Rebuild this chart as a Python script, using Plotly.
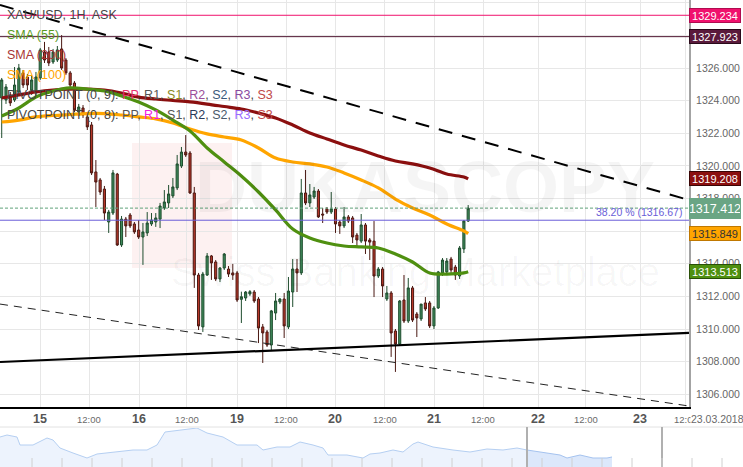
import plotly.graph_objects as go

# ---------------- data ----------------
opens = [1324.16, 1324.04, 1324.35, 1324.04, 1324.53, 1325.70, 1325.45, 1324.65, 1324.53, 1325.39,
         1326.98, 1326.98, 1326.37, 1326.49, 1327.17, 1326.49, 1325.70, 1325.08, 1323.30, 1323.55,
         1323.00, 1322.51, 1319.63, 1319.14, 1318.58, 1316.56, 1317.11, 1319.50, 1315.15, 1316.74,
         1316.99, 1316.44, 1316.07, 1315.64, 1315.89, 1316.44, 1316.56, 1316.74, 1317.42, 1317.73,
         1318.16, 1318.65, 1319.99, 1320.85, 1320.79, 1318.34, 1313.31, 1310.13, 1313.31, 1314.48,
         1314.11, 1313.07, 1313.74, 1313.68, 1313.44, 1313.44, 1311.82, 1311.90, 1312.15, 1312.27,
         1311.84, 1310.13, 1309.82, 1309.02, 1310.98, 1311.66, 1311.84, 1310.13, 1312.27, 1313.68,
         1313.44, 1318.34, 1317.73, 1318.09, 1318.46, 1317.05, 1317.36, 1317.17, 1317.36, 1316.56,
         1316.32, 1316.87, 1316.81, 1315.76, 1315.39, 1316.38, 1315.46, 1315.39, 1313.25, 1313.68,
         1311.84, 1312.21, 1309.88, 1309.08, 1311.78, 1310.49, 1312.52, 1310.92, 1310.62, 1311.60,
         1311.60, 1310.19, 1311.29, 1313.44, 1313.50, 1314.29, 1313.80, 1313.25, 1314.91, 1316.62]
highs = [1325.39, 1325.02, 1324.53, 1326.06, 1326.25, 1325.88, 1325.63, 1325.51, 1325.76, 1327.23,
         1327.60, 1327.29, 1327.17, 1327.35, 1328.02, 1326.61, 1325.82, 1325.20, 1323.80, 1323.73,
         1323.24, 1322.69, 1320.36, 1319.26, 1318.77, 1317.30, 1319.75, 1319.57, 1316.93, 1316.87,
         1317.11, 1316.56, 1316.68, 1316.50, 1317.17, 1317.11, 1317.11, 1317.73, 1318.52, 1318.83,
         1319.26, 1320.67, 1321.16, 1321.89, 1320.91, 1318.71, 1313.44, 1313.50, 1314.66, 1314.54,
         1314.23, 1313.80, 1314.66, 1313.86, 1313.99, 1313.56, 1312.29, 1312.33, 1312.39, 1312.39,
         1311.96, 1310.31, 1309.94, 1311.17, 1312.21, 1311.90, 1312.21, 1313.19, 1314.29, 1314.29,
         1319.20, 1319.75, 1318.89, 1318.71, 1318.58, 1317.42, 1317.48, 1318.40, 1317.48, 1316.68,
         1317.48, 1316.99, 1316.93, 1315.89, 1317.05, 1316.50, 1315.58, 1316.62, 1313.80, 1313.80,
         1312.64, 1312.33, 1310.00, 1311.78, 1313.31, 1313.13, 1312.64, 1311.04, 1311.53, 1311.96,
         1311.72, 1311.41, 1313.56, 1314.35, 1314.35, 1314.42, 1313.93, 1315.09, 1316.68, 1317.60]
lows = [1321.71, 1323.80, 1323.67, 1323.92, 1324.35, 1324.78, 1324.65, 1324.35, 1324.29, 1325.27,
        1326.31, 1326.12, 1326.25, 1326.37, 1325.88, 1325.57, 1324.78, 1323.30, 1323.06, 1322.94,
        1322.20, 1319.44, 1317.48, 1318.22, 1316.68, 1315.89, 1316.99, 1315.09, 1315.03, 1315.64,
        1316.19, 1315.83, 1315.52, 1313.93, 1315.70, 1316.32, 1316.26, 1316.19, 1317.30, 1317.42,
        1318.03, 1318.52, 1319.87, 1320.55, 1318.28, 1312.52, 1309.94, 1309.82, 1313.25, 1313.01,
        1312.94, 1312.88, 1313.62, 1313.19, 1313.01, 1311.66, 1310.37, 1311.72, 1312.03, 1311.60,
        1309.14, 1307.92, 1308.90, 1308.65, 1310.55, 1311.53, 1309.45, 1310.00, 1311.35, 1312.27,
        1313.31, 1317.60, 1317.48, 1317.97, 1316.81, 1316.50, 1317.05, 1317.05, 1315.89, 1315.83,
        1316.19, 1316.50, 1315.27, 1315.03, 1315.27, 1314.60, 1314.23, 1311.96, 1313.13, 1311.96,
        1311.72, 1308.29, 1307.37, 1308.96, 1310.37, 1310.37, 1310.43, 1309.51, 1310.49, 1311.11,
        1310.06, 1310.00, 1311.23, 1313.25, 1313.37, 1313.44, 1313.01, 1313.07, 1314.66, 1316.56]
closes = [1325.27, 1324.84, 1323.86, 1324.96, 1326.00, 1324.96, 1324.96, 1325.27, 1325.45, 1327.11,
          1326.49, 1326.31, 1326.98, 1327.11, 1326.00, 1325.70, 1324.96, 1323.43, 1323.61, 1323.12,
          1322.39, 1319.57, 1319.01, 1318.40, 1317.11, 1317.17, 1319.57, 1315.15, 1316.74, 1316.32,
          1316.32, 1315.95, 1315.64, 1315.95, 1316.50, 1316.68, 1316.81, 1317.54, 1317.79, 1318.28,
          1318.71, 1320.12, 1320.85, 1320.67, 1318.34, 1313.31, 1310.19, 1313.37, 1314.48, 1314.05,
          1313.07, 1313.74, 1314.60, 1313.37, 1313.31, 1311.78, 1311.98, 1312.27, 1312.29, 1311.72,
          1310.06, 1309.76, 1309.02, 1311.11, 1311.72, 1311.84, 1310.19, 1312.33, 1313.68, 1313.44,
          1318.34, 1317.73, 1318.22, 1318.46, 1316.87, 1316.99, 1317.17, 1317.36, 1316.44, 1316.32,
          1316.87, 1316.62, 1315.64, 1315.46, 1316.38, 1315.39, 1315.33, 1313.25, 1313.68, 1312.64,
          1312.21, 1309.76, 1309.08, 1311.72, 1310.49, 1312.52, 1310.55, 1310.68, 1311.53, 1311.23,
          1310.19, 1311.29, 1313.50, 1314.23, 1314.17, 1313.62, 1313.31, 1314.97, 1316.62, 1317.41]

# moving averages sampled every 4 candles (candle index, price)
sma_x = [0, 4, 8, 12, 16, 20, 24, 28, 32, 36, 40, 44, 48, 52, 56, 60, 64, 68, 72, 76,
         80, 84, 88, 92, 96, 100, 104, 108, 109]
sma55 = [1323.06, 1323.55, 1324.22, 1324.59, 1324.78, 1324.71, 1324.59, 1324.29, 1323.92, 1323.43,
         1322.81, 1322.14, 1321.10, 1320.24, 1319.38, 1318.40, 1317.30, 1316.13, 1315.58, 1315.27,
         1315.09, 1315.03, 1314.97, 1314.60, 1314.11, 1313.44, 1313.37, 1313.44, 1313.51]
sma100 = [1322.69, 1322.81, 1323.00, 1323.09, 1323.15, 1323.21, 1323.21, 1323.12, 1323.00, 1322.88,
          1322.63, 1322.26, 1321.96, 1321.77, 1321.59, 1321.10, 1320.48, 1320.24, 1320.12, 1319.93,
          1319.57, 1319.14, 1318.65, 1317.97, 1317.42, 1316.99, 1316.44, 1316.01, 1315.85]
sma200 = [1324.16, 1324.35, 1324.53, 1324.65, 1324.71, 1324.71, 1324.65, 1324.47, 1324.22, 1324.10,
          1324.01, 1323.92, 1323.79, 1323.64, 1323.49, 1323.24, 1322.94, 1322.51, 1322.02, 1321.65,
          1321.28, 1320.97, 1320.61, 1320.30, 1320.12, 1319.87, 1319.50, 1319.32, 1319.21]

# drawn trend lines (candle index, price at both ends)
upper_trend_x = [-0.4, 160.6]
upper_trend_y = [1329.86, 1317.91]
lower_dash_x = [-0.4, 160.6]
lower_dash_y = [1311.53, 1305.28]
support_x = [-0.4, 160.6]
support_y = [1307.98, 1309.76]

# horizontal levels
level_pink = 1329.234
level_maroon = 1327.923
fib_level = 1316.67
last_price = 1317.412

# x tick labels (candle index positions)
tick_vals = [8.95, 20.51, 32.08, 43.29, 55.09, 66.43, 77.99, 89.56, 101.12, 112.57,
             125.42, 136.52, 149.25, 159.88]
tick_text = ["15", "12:00", "16", "12:00", "19", "12:00", "20", "12:00", "21", "12:00",
             "22", "12:00", "23", "12:00"]

# price axis ticks
price_ticks = [1306, 1308, 1310, 1312, 1314, 1316, 1318, 1320, 1322, 1324, 1326, 1328, 1330]

# navigator overview (pixel position, relative height)
nav_x = [0, 7, 17, 20, 33, 47, 53, 60, 73, 87, 97, 117, 133, 147, 157, 165, 180, 197, 207, 223,
         237, 257, 263, 277, 290, 300, 313, 323, 328, 347, 363, 370, 380, 393, 403, 413, 418, 433,
         453, 470, 487, 503, 517, 527, 540, 560, 567, 580, 593, 607, 612]
nav_h = [30, 32, 30, 22, 22, 29, 27, 19, 14, 9, 13, 15, 17, 17, 22, 35, 37, 39, 34, 30,
         22, 22, 17, 20, 20, 25, 22, 19, 12, 12, 9, 13, 14, 17, 15, 23, 25, 20,
         17, 15, 18, 17, 19, 17, 15, 12, 9, 12, 9, 9, 10]
nav_split = 527

# ---------------- figure ----------------
W, H = 743, 467
PLOT_W = 689
PLOT_BOTTOM = 407
NAV_TOP = 428
idx = list(range(len(opens)))

fig = go.Figure()

fig.add_trace(go.Candlestick(
    x=idx, open=opens, high=highs, low=lows, close=closes,
    increasing=dict(line=dict(color="#1f4d2e", width=1), fillcolor="#3f8a5b"),
    decreasing=dict(line=dict(color="#4a1812", width=1), fillcolor="#b8382a"),
    whiskerwidth=0, showlegend=False, hoverinfo="skip"))

fig.add_trace(go.Scatter(x=sma_x, y=sma200, mode="lines", line=dict(color="#8b0f0f", width=3.2, shape="spline"),
                         showlegend=False, hoverinfo="skip"))
fig.add_trace(go.Scatter(x=sma_x, y=sma100, mode="lines", line=dict(color="#ffa500", width=3.2, shape="spline"),
                         showlegend=False, hoverinfo="skip"))
fig.add_trace(go.Scatter(x=sma_x, y=sma55, mode="lines", line=dict(color="#4f9010", width=3.2, shape="spline"),
                         showlegend=False, hoverinfo="skip"))

fig.add_trace(go.Scatter(x=upper_trend_x, y=upper_trend_y, mode="lines",
                         line=dict(color="#000000", width=2, dash="14px,10px"), showlegend=False, hoverinfo="skip"))
fig.add_trace(go.Scatter(x=lower_dash_x, y=lower_dash_y, mode="lines",
                         line=dict(color="#222222", width=1, dash="8px,6px"), showlegend=False, hoverinfo="skip"))
fig.add_trace(go.Scatter(x=support_x, y=support_y, mode="lines",
                         line=dict(color="#000000", width=2.2), showlegend=False, hoverinfo="skip"))

# navigator
nav_a_x = [x for x in nav_x if x <= nav_split]
nav_a_y = [h for x, h in zip(nav_x, nav_h) if x <= nav_split]
nav_b_x = [x for x in nav_x if x >= nav_split]
nav_b_y = [h for x, h in zip(nav_x, nav_h) if x >= nav_split]
fig.add_trace(go.Scatter(x=nav_a_x, y=nav_a_y, mode="lines", fill="tozeroy", fillcolor="#edf3fd",
                         line=dict(color="#b5cff2", width=1), xaxis="x2", yaxis="y2",
                         showlegend=False, hoverinfo="skip"))
fig.add_trace(go.Scatter(x=nav_b_x, y=nav_b_y, mode="lines", fill="tozeroy", fillcolor="#dce8fb",
                         line=dict(color="#a5c3ef", width=1), xaxis="x2", yaxis="y2",
                         showlegend=False, hoverinfo="skip"))

main_bottom = 1 - PLOT_BOTTOM / H
nav_top = 1 - NAV_TOP / H

def py(ypx):
    return 1 - ypx / H

fig.update_layout(
    width=W, height=H,
    margin=dict(l=0, r=W - PLOT_W, t=0, b=0),
    paper_bgcolor="white", plot_bgcolor="white",
    font=dict(family="Liberation Sans, Arial, sans-serif"),
    xaxis=dict(range=[-0.4, 160.6], domain=[0, 1], tickvals=tick_vals, showticklabels=False,
               showgrid=True, gridcolor="#e7e7e7", gridwidth=1, zeroline=False,
               showline=True, linecolor="#000000", linewidth=2, ticks="",
               rangeslider=dict(visible=False), fixedrange=True),
    yaxis=dict(range=[1305.22, 1330.17], domain=[main_bottom, 1], side="right",
               tickvals=price_ticks, ticktext=[f"{v:.3f}" for v in price_ticks],
               tickfont=dict(size=10.5, color="#666666"), showgrid=True, gridcolor="#e7e7e7",
               zeroline=False, showline=True, linecolor="#a3a3a3", linewidth=2, ticks="",
               ticklabelstandoff=3),
    xaxis2=dict(range=[0, PLOT_W], domain=[0, 1], anchor="y2", visible=False),
    yaxis2=dict(range=[0, H - NAV_TOP], domain=[0, nav_top], anchor="x2", visible=False),
)

shapes = []
# horizontal levels
shapes.append(dict(type="line", xref="paper", yref="y", x0=0, x1=1, y0=level_pink, y1=level_pink,
                   line=dict(color="#f0116d", width=1)))
shapes.append(dict(type="line", xref="paper", yref="y", x0=0, x1=1, y0=level_maroon, y1=level_maroon,
                   line=dict(color="#4e1530", width=1)))
shapes.append(dict(type="line", xref="paper", yref="y", x0=0, x1=1, y0=fib_level, y1=fib_level,
                   line=dict(color="#6a5ed8", width=1)))
shapes.append(dict(type="line", xref="paper", yref="y", x0=0, x1=1, y0=last_price, y1=last_price,
                   line=dict(color="#5fa37a", width=1, dash="3px,2px")))
# watermark logo
shapes.append(dict(type="rect", xref="paper", yref="paper", x0=132 / PLOT_W, x1=232 / PLOT_W,
                   y0=py(268), y1=py(143), fillcolor="rgba(230,60,60,0.07)", line=dict(width=0),
                   layer="below"))
# navigator decorations
shapes.append(dict(type="line", xref="paper", yref="paper", x0=0, x1=W / PLOT_W, y0=py(427), y1=py(427),
                   line=dict(color="#e2e2e2", width=1)))
for sx in (527, 662):
    shapes.append(dict(type="line", xref="paper", yref="paper", x0=sx / PLOT_W, x1=sx / PLOT_W,
                       y0=0, y1=py(427), line=dict(color="#b0b0b0", width=2)))
for k in range(24):
    tx = 32 + 30 * k
    if tx > W:
        break
    shapes.append(dict(type="line", xref="paper", yref="paper", x0=tx / PLOT_W, x1=tx / PLOT_W,
                       y0=0, y1=py(458), line=dict(color="#d0d0d0", width=1)))
fig.update_layout(shapes=shapes)

ann = []
# watermark text
ann.append(dict(text="<b>DUKASCOPY</b>", xref="paper", yref="paper", x=425 / PLOT_W, y=py(187),
                showarrow=False, font=dict(size=72, color="rgba(0,0,0,0.04)"), xanchor="center", yanchor="middle"))
ann.append(dict(text="Swiss Banking Marketplace", xref="paper", yref="paper", x=415 / PLOT_W, y=py(272),
                showarrow=False, font=dict(size=40, color="rgba(0,0,0,0.03)"), xanchor="center", yanchor="middle"))

# x tick labels
for v, t in zip(tick_vals, tick_text):
    if ":" in t:
        f = dict(size=9.5, color="#6a6a6a")
        txt = t
    else:
        f = dict(size=12.5, color="#555555")
        txt = f"<b>{t}</b>"
    ann.append(dict(text=txt, xref="x", yref="paper", x=v, y=py(419), showarrow=False, font=f,
                    xanchor="center", yanchor="middle"))
ann.append(dict(text="23.03.2018", xref="paper", yref="paper", x=690 / PLOT_W, y=py(419), showarrow=False,
                font=dict(size=10.5, color="#6a6a6a"), xanchor="left", yanchor="middle",
                bgcolor="white", borderpad=0))

# price tags on the axis
def tag(val, bg, fg, size=11, border=None, h=None):
    return dict(text=f"{val:.3f}", xref="paper", yref="y", x=1.0, y=val, showarrow=False,
                xanchor="left", yanchor="middle", bgcolor=bg, bordercolor=border or bg, borderwidth=1,
                font=dict(size=size, color=fg), width=50, height=h, align="center", borderpad=0)

ann.append(tag(level_pink, "#f0116d", "white", h=13, border="#b00c50"))
ann.append(tag(level_maroon, "#5a1a3c", "white", h=13, border="#2a0a1a"))
ann.append(tag(1319.208, "#8b0f0f", "white", h=13, border="#3a0505"))
ann.append(tag(last_price, "#6aa584", "white", size=12.5, h=19))
ann.append(tag(1315.849, "#ffa500", "#333333", h=13, border="#c07800"))
ann.append(tag(1313.513, "#4f9010", "white", h=13, border="#2a5008"))

ann.append(dict(text="38.20 % (1316.67)", xref="paper", yref="y", x=684 / PLOT_W, y=fib_level,
                showarrow=False, xanchor="right", yanchor="bottom", font=dict(size=10.5, color="#6a5ed8")))

# legend texts
leg = [
    ("XAU/USD, 1H, ASK", "#444444", 15),
    ("SMA (55)", "#5a9a1e", 35),
    ("SMA (200)", "#a83434", 55),
    ("SMA (100)", "#ffa500", 75),
    ("PIVOTPOINT (0, 9): <span style='color:#e8306f'>PP</span>, <span style='color:#555555'>R1</span>, "
     "<span style='color:#8a8a1e'>S1</span>, <span style='color:#9a4f9a'>R2</span>, "
     "<span style='color:#3a5a7a'>S2</span>, <span style='color:#8a4aa0'>R3</span>, "
     "<span style='color:#c04848'>S3</span>", "#444444", 95),
    ("PIVOTPOINT (0, 8): <span style='color:#555555'>PP</span>, <span style='color:#f020e0'>R1</span>, "
     "<span style='color:#555555'>S1</span>, <span style='color:#2a3a5a'>R2</span>, "
     "<span style='color:#4a5a6a'>S2</span>, <span style='color:#9a6aff'>R3</span>, "
     "<span style='color:#c04848'>S3</span>", "#444444", 115),
]
for txt, col, ypx in leg:
    ann.append(dict(text=txt, xref="paper", yref="paper", x=5 / PLOT_W, y=py(ypx), showarrow=False,
                    xanchor="left", yanchor="middle", font=dict(size=12.5, color=col)))

fig.update_layout(annotations=ann)

fig.write_html("out.html", config={"displayModeBar": False},
               post_script="document.body.style.margin='0';document.body.style.overflow='hidden';")
